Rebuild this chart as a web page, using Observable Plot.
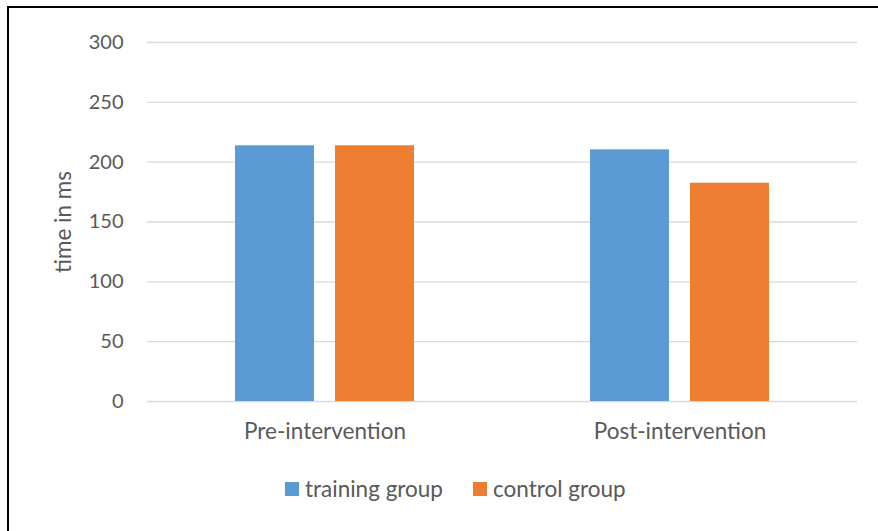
<!DOCTYPE html>
<html>
<head>
<meta charset="utf-8">
<script src="https://cdn.jsdelivr.net/npm/d3@7"></script>
<script src="https://cdn.jsdelivr.net/npm/@observablehq/plot@0.6"></script>
<style>
  html, body { margin: 0; padding: 0; background: #fff; width: 878px; height: 531px; overflow: hidden; }
  #frame { position: absolute; left: 7px; top: 6px; width: 2000px; height: 2000px; border-left: 2px solid #000; border-top: 2px solid #000; }
  #chart { position: absolute; left: 0; top: 0; }
  #legend { position: absolute; left: 285px; top: 475px; display: flex; align-items: center; font-family: Lato, sans-serif; font-size: 22.5px; color: #595959; }
  .item { display: flex; align-items: center; margin-right: 30px; }
  .sw { width: 14px; height: 14px; margin-right: 6px; }
</style>
</head>
<body>
<div id="frame"></div>
<div id="chart"></div>
<div id="legend"></div>
<script>
const groups = ["Pre-intervention", "Post-intervention"];
const series = ["training group", "control group"];
const trainingValues = [213.7, 210.3];
const controlValues = [213.7, 182.4];
const colors = ["#5B9BD5", "#ED7D31"];
const yTicks = [0, 50, 100, 150, 200, 250, 300];

const rows = [];
groups.forEach((g, i) => {
  rows.push({group: g, series: series[0], value: trainingValues[i]});
  rows.push({group: g, series: series[1], value: controlValues[i]});
});

const chart = Plot.plot({
  width: 878,
  height: 460,
  marginLeft: 147,
  marginRight: 21,
  marginTop: 42,
  marginBottom: 59,
  style: {fontFamily: "Lato, sans-serif", fontSize: "22.5px", color: "#595959", background: "transparent", overflow: "visible"},
  fx: {domain: groups, padding: 0, label: null, axis: "bottom", tickSize: 0, tickPadding: 22},
  x: {domain: series, paddingInner: 0.209, paddingOuter: 0.871, axis: null},
  y: {domain: [0, 300]},
  color: {domain: series, range: colors},
  marks: [
    Plot.gridY(yTicks, {stroke: "#D9D9D9", strokeOpacity: 1, strokeWidth: 1.3}),
    Plot.barY(rows, {fx: "group", x: "series", y: "value", fill: "series"}),
    Plot.axisY(yTicks, {tickSize: 0, tickPadding: 24, fontSize: 20, label: null}),
    Plot.axisY({ticks: [], label: "time in ms", labelAnchor: "center", labelOffset: 92, labelArrow: "none", fontSize: 22.5})
  ]
});
document.getElementById("chart").appendChild(chart);

const legend = document.getElementById("legend");
series.forEach((s, i) => {
  const item = document.createElement("div");
  item.className = "item";
  const sw = document.createElement("div");
  sw.className = "sw";
  sw.style.background = colors[i];
  const t = document.createElement("span");
  t.textContent = s;
  item.appendChild(sw);
  item.appendChild(t);
  legend.appendChild(item);
});
</script>
</body>
</html>
